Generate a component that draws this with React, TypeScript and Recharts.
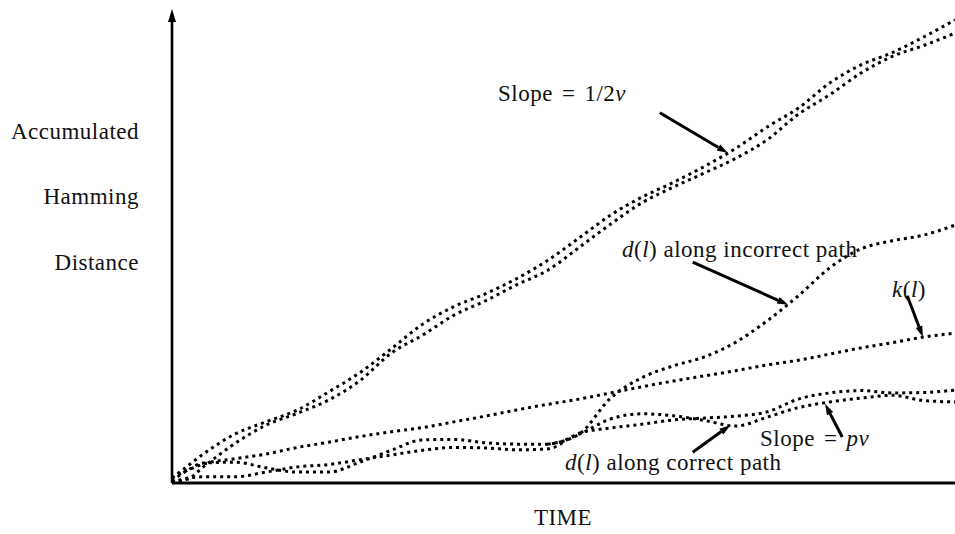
import React from 'react';
import { LineChart, Line, XAxis, YAxis, ReferenceLine } from 'recharts';

// Time steps (horizontal axis, arbitrary units 0..100)
const time = [0, 2, 4, 8, 12, 16, 20, 24, 28, 32, 36, 40, 44, 48, 52, 56, 60, 64, 68, 72, 76, 80, 84, 88, 92, 96, 100];

// Two incorrect-path bounds with slope 1/2ν
const steepUpper = [1.05, 3.6, 6.1, 10.3, 12.9, 15.4, 19.2, 23.3, 28.3, 33.5, 37.2, 39.9, 43.1, 47.0, 51.7, 56.5, 60.3, 63.4, 66.8, 70.6, 75.1, 79.1, 84.4, 88.2, 90.8, 94.1, 97.7];
const steepLower = [0.2, 0.8, 3.4, 8.3, 12.2, 14.7, 17.5, 21.6, 27.4, 31.2, 35.4, 38.4, 41.8, 44.9, 49.7, 54.6, 59.1, 62.4, 65.4, 68.5, 72.4, 77.8, 81.9, 86.5, 90.0, 92.3, 94.9];

// d(l) along an incorrect path, branching off the correct path
const incorrectPath = [null, null, null, null, null, null, null, null, null, null, null, null, null, 8.2, 10.3, 17.9, 22.2, 24.7, 26.6, 29.7, 34.2, 39.5, 45.4, 49.4, 51.1, 52.3, 54.4];

// Threshold k(l)
const threshold = [1.05, 2.7, 4.0, 5.1, 6.1, 7.5, 8.6, 9.8, 10.8, 11.7, 12.9, 14.1, 15.4, 16.6, 17.7, 19.0, 20.3, 21.5, 22.6, 23.7, 24.9, 25.9, 27.2, 28.5, 29.6, 30.8, 31.6];

// d(l) along the correct path and its slope-pν companion
const correctPath = [0.4, 2.7, 4.2, 4.4, 3.2, 2.3, 2.3, 4.4, 6.9, 9.1, 9.2, 8.5, 8.2, 8.2, 10.3, 13.5, 14.6, 14.2, 13.2, 12.0, 13.9, 15.9, 17.1, 17.9, 18.5, 17.4, 17.1];
const correctTrend = [0, 1.05, 1.3, 1.3, 2.3, 3.4, 3.9, 4.9, 5.9, 6.9, 7.5, 7.4, 7.0, 7.2, 10.5, 11.6, 12.4, 13.3, 13.7, 14.1, 15.0, 17.7, 19.0, 19.5, 19.0, 19.1, 19.6];

// Annotation arrows: [from, to] in (time, distance)
const arrows = [
  [{ x: 62.3, y: 78.1 }, { x: 71.0, y: 69.6 }],
  [{ x: 66.5, y: 46.6 }, { x: 78.7, y: 37.6 }],
  [{ x: 93.9, y: 39.5 }, { x: 95.9, y: 30.8 }],
  [{ x: 85.6, y: 9.7 }, { x: 83.4, y: 16.7 }],
  [{ x: 66.5, y: 6.5 }, { x: 71.3, y: 12.2 }],
];

const data = time.map((t, i) => ({
  t,
  steepUpper: steepUpper[i],
  steepLower: steepLower[i],
  incorrectPath: incorrectPath[i],
  threshold: threshold[i],
  correctPath: correctPath[i],
  correctTrend: correctTrend[i],
}));

const series = ['steepUpper', 'steepLower', 'incorrectPath', 'threshold', 'correctPath', 'correctTrend'];

const FONT = '"Liberation Serif", "Times New Roman", serif';

const makeArrow = (len: number, half: number, width: number) => (props: any) => {
  const { x1, y1, x2, y2 } = props;
  const ang = Math.atan2(y2 - y1, x2 - x1);
  const bx = x2 - len * Math.cos(ang);
  const by = y2 - len * Math.sin(ang);
  const px = -Math.sin(ang) * half;
  const py = Math.cos(ang) * half;
  return (
    <g>
      <line x1={x1} y1={y1} x2={bx} y2={by} stroke="#000" strokeWidth={width} />
      <polygon points={`${x2},${y2} ${bx + px},${by + py} ${bx - px},${by - py}`} fill="#000" />
    </g>
  );
};

const pointer = makeArrow(11, 3.5, 3);
const axisArrow = makeArrow(13, 4, 2.6);

const textStyle: React.CSSProperties = { fontFamily: FONT, fontSize: 23, fill: '#111', letterSpacing: 0.5 };
const it = { fontStyle: 'italic' as const };

export default function App() {
  return (
    <div style={{ position: 'absolute', left: 0, top: 0, width: 955, height: 534, background: '#fff' }}>
      <LineChart
        width={955}
        height={534}
        data={data}
        margin={{ top: 9, right: 0, bottom: 51, left: 172 }}
      >
        <XAxis dataKey="t" type="number" domain={[0, 100]} hide />
        <YAxis type="number" domain={[0, 100]} hide />
        <ReferenceLine y={0} stroke="#000" strokeWidth={3} />
        <ReferenceLine segment={[{ x: 0, y: 0 }, { x: 0, y: 100 }]} shape={axisArrow} />
        {series.map((k) => (
          <Line
            key={k}
            dataKey={k}
            type="monotone"
            stroke="#000"
            strokeWidth={3}
            strokeDasharray="3 4"
            dot={false}
            activeDot={false}
            connectNulls={false}
            isAnimationActive={false}
          />
        ))}
        {arrows.map((seg, i) => (
          <ReferenceLine key={i} segment={seg} shape={pointer} />
        ))}
      </LineChart>
      <svg
        width={955}
        height={534}
        style={{ position: 'absolute', left: 0, top: 0, pointerEvents: 'none' }}
      >
        <g>
          <text x={139} y={139} textAnchor="end" style={textStyle}>Accumulated</text>
          <text x={139} y={204} textAnchor="end" style={textStyle}>Hamming</text>
          <text x={139} y={270} textAnchor="end" style={textStyle}>Distance</text>
          <text x={563} y={525} textAnchor="middle" style={textStyle}>TIME</text>
          <text x={498} y={101} style={textStyle}>
            Slope<tspan dx={9}>=</tspan><tspan dx={9}>1/2</tspan><tspan {...it}>ν</tspan>
          </text>
          <text x={622} y={257} style={textStyle}>
            <tspan {...it}>d</tspan>(<tspan {...it}>l</tspan>) along incorrect path
          </text>
          <text x={892} y={297} style={textStyle}>
            <tspan {...it}>k</tspan>(<tspan {...it}>l</tspan>)
          </text>
          <text x={760} y={446} style={textStyle}>
            Slope<tspan dx={9}>=</tspan><tspan dx={9} {...it}>pν</tspan>
          </text>
          <text x={565} y={470} style={textStyle}>
            <tspan {...it}>d</tspan>(<tspan {...it}>l</tspan>) along correct path
          </text>
        </g>
      </svg>
    </div>
  );
}
